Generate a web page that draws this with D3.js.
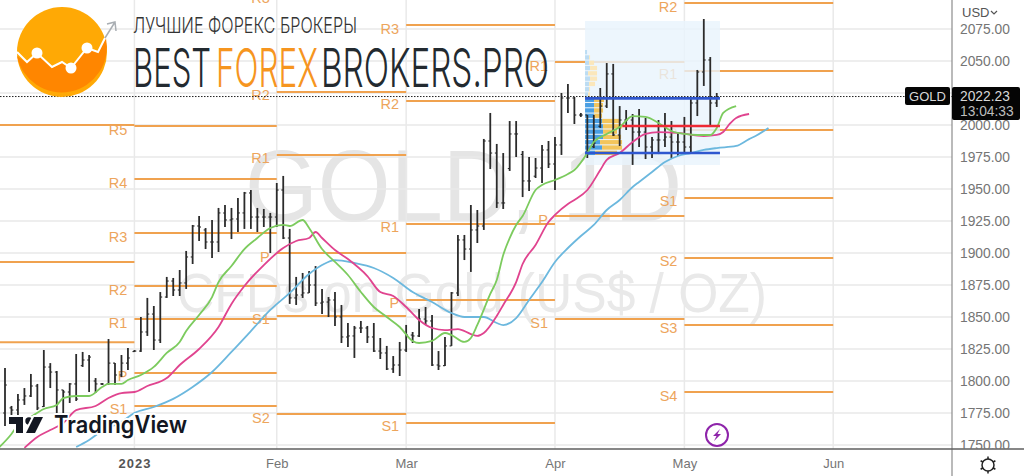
<!DOCTYPE html>
<html>
<head>
<meta charset="utf-8">
<script src="https://cdn.jsdelivr.net/npm/d3@7"></script>
<style>
  html, body { margin: 0; padding: 0; background: #fff; overflow: hidden; }
  text { font-family: "Liberation Sans", Arial, sans-serif; }
</style>
</head>
<body>
<div id="chart"></div>
<script>
// Daily gold bars, index 0 is the first bar on the left edge
var barOpen = [1775,1779,1777.3,1785.2,1788.3,1796.1,1780,1810.9,1807,1793,1791.4,1797.7,1812,1816.4,1800,1797.7,1797.7,1814,1804.7,1814,1823,
  1823.4,1838.3,1852.3,1832,1865.6,1878.1,1871.1,1876.6,1896.9,1921.1,1918,1908.6,1908.6,1931.3,1925.8,1926.6,1931.3,1946.9,1928.1,1928.1,1928.1,
  1928.1,1949.2,1911.7,1864.9,1867.2,1868.8,1875,1860.9,1861.7,1863.3,1850,1834.4,1835.2,1841.4,1841.4,1834.4,1823.4,1821.9,1809.4,1812.5,
  1824.2,1835.9,1835.2,1848.4,1846.9,1812.5,1812,1827.4,1868.8,1910.2,1903.1,1918,1921.1,1987.5,1978.1,1939.1,1966,1993,1977,1956.3,1960,1966.4,1980.5,
  1969.5,1984.4,2021.1,2021.1,2007.8,2007.8,1983,1999,2014.8,2039.9,1992.2,2003.9,2003.9,1994.5,1994.5,1982.8,1988.3,1988.3,1990.6,1986.7,
  1986.7,1982.8,2017.2,2041.4,2050.8,2017.2];
var barHigh = [1810.2,1780.5,1789.8,1794.5,1805.5,1797.7,1824.2,1814,1807.8,1793,1798.4,1821.1,1822.7,1820.3,1802.3,1798.4,1832.8,1814,1820.3,1825.8,1824.2,
  1850,1864.9,1858.6,1869.5,1881.3,1880.5,1886.7,1901.6,1921.9,1928.9,1919.5,1925.8,1935.2,1937.5,1935.2,1943,1947.7,1949.2,1935.2,1934.4,1931.3,
  1954.7,1960.2,1918.8,1881.3,1884.4,1885.9,1889.8,1871.9,1865.6,1869.5,1859.4,1845.3,1843,1846.9,1843,1845.3,1833.6,1827.4,1819.5,1830.5,
  1843.8,1838.3,1856.3,1857.8,1851.6,1823.4,1834.4,1869.5,1914.1,1914.1,1937.5,1933.6,1989.1,2009.4,1985.2,1978.1,2003.1,2003.1,1979.7,1975,1974.2,1984.4,1987.5,
  1990.6,2025,2032,2021.9,2009.4,2007.8,2007.8,2028.9,2048.4,2047.7,2014.8,2011.7,2008.6,2012.5,2005.5,1990.6,2003.9,2009.4,2003.1,1994.5,
  2006.3,2021.1,2043,2082.8,2053.1,2025];
var barLow = [1764.9,1769.5,1772.7,1781.3,1787.5,1777.3,1779.7,1794.5,1775,1775,1782.8,1784.4,1811,1791.4,1790.6,1796.9,1796.9,1796.9,1803.1,1808.6,1822.7,
  1822.7,1835.2,1824.2,1829.7,1864.9,1866.4,1866.4,1871.9,1891.4,1909.4,1903.1,1896.1,1900.8,1920.3,1910.9,1916.4,1918.8,1918.8,1916.4,1920.3,1900,
  1920.3,1910.9,1860.2,1859.4,1864.9,1868.8,1858.6,1852.3,1850,1843,1829.7,1826.6,1818,1837.5,1829.7,1822.7,1817.2,1808.6,1806.3,1803.9,
  1822.7,1829.7,1834.4,1843.8,1811.7,1808.6,1811.7,1827.4,1866.4,1894.5,1885.2,1907.8,1918,1965.6,1935.2,1934.4,1964.1,1975,1943.7,1948.4,1958.6,1954.7,1966.4,
  1949.2,1976.6,2009.4,2000.8,2006.3,1974.2,1982,1997.7,2013.3,1991.4,1983.6,1996.1,1968.8,1982.8,1973.4,1974.2,1977.3,1982.8,1974.2,1975.8,
  1978.1,1978.1,2007,2030.5,2000,2014.1];
var barClose = [1796.9,1777.3,1785.2,1788.3,1796.1,1778.9,1810.9,1807,1793,1791.4,1797.7,1785.9,1816.4,1818.7,1797.7,1797.7,1814,1804.7,1814,1818,1823.4,
  1838.3,1852.3,1832,1865.6,1878.1,1871.1,1876.6,1896.9,1921.1,1920.3,1908.6,1908.6,1931.3,1925.8,1926.6,1931.3,1946.9,1928.1,1928.1,1928.1,1928.1,
  1949.2,1911.7,1864.9,1867.2,1868.8,1875,1860.9,1861.7,1863.3,1850,1834.4,1835.2,1841.4,1841.4,1834.4,1823.4,1821.9,1809.4,1812.5,1824.2,
  1835.9,1835.2,1848.4,1846.9,1812.5,1811.7,1827.4,1868.8,1910.2,1903.1,1918,1921.1,1987.5,1978.1,1939.1,1939.1,1993,1993,1956.3,1956.3,1966.4,1980.5,1969.5,
  1984.4,2021.1,2021.1,2007.8,2007.8,1978.1,1985.9,2014.8,2039.9,1992.2,2003.9,2003.9,1994.5,1994.5,1982.8,1988.3,1988.3,1990.6,1986.7,1986.7,
  1982.8,2017.2,2041.4,2050.8,2017.2,2022.2];

// Moving averages as [bar index, price], they run past the last bar
var greenMa = [[-1,1747.7],[1,1758.6],[2,1765.6],[4,1771.9],[6,1778.1],[8,1781.3],[9,1786.7],[11,1788.3],[13,1788.3],[15,1795.3],[16,1797.7],[18,1797.7],[19,1800.8],
  [21,1804.7],[23,1811],[25,1821.9],[27,1830.5],[28,1839],[30,1851.6],[32,1865.6],[33,1877.3],[35,1889.8],[37,1903.1],[39,1911.7],[41,1919.5],[43,1921.9],[44,1921.1],
  [46,1925.8],[47,1919.5],[49,1903.1],[50,1897.7],[51,1893],[53,1882.8],[55,1869.5],[57,1857.8],[59,1850],[61,1842.2],[63,1831.3],[64,1829.7],[66,1831.3],[68,1837.5],
  [69,1835.9],[71,1830.5],[72,1833.6],[73,1843.8],[75,1868],[76,1878.9],[77,1898.4],[78,1911.7],[79,1921.9],[80,1928.9],[82,1949.2],[83,1953.1],[85,1957],[87,1961.7],
  [88,1964.8],[90,1978.1],[91,1986.7],[93,1993],[95,1998.4],[97,2007],[99,2006.3],[101,2001.6],[103,1995.3],[105,1993],[107,1992.2],[109,1992.2],[110,1997.7],[111,2009.4],[113,2014.8]];
var pinkMa = [[3,1747.7],[5,1756.3],[7,1761.7],[9,1767.2],[11,1777.3],[14,1780.5],[16,1786.7],[18,1790.6],[20,1791.4],[22,1796.1],[25,1802.3],[27,1812.5],[30,1825],
  [33,1842.2],[35,1860.2],[37,1874.2],[40,1890.6],[43,1903.9],[45,1909.4],[47,1911.7],[48,1916.4],[49,1911.7],[51,1902.3],[53,1895.3],[56,1882],[58,1869.5],[60,1866.4],
  [62,1857.8],[64,1847.7],[66,1841.4],[68,1839.8],[70,1840.6],[72,1836.7],[73,1835.2],[74,1837.5],[76,1850.8],[77,1859.4],[79,1877.3],[80,1891.4],[82,1906.3],[84,1924.2],
  [85,1929.7],[87,1938.3],[88,1941.4],[90,1949.2],[92,1964.8],[93,1972.7],[95,1978.1],[97,1986.7],[99,1993],[101,1994.5],[104,1993.8],[108,1991.4],[110,1992.2],[111,1994.5],
  [112,2000.8],[113,2005.5],[115,2008.6]];
var blueMa = [[11,1748.4],[13,1753.9],[15,1761],[18,1768],[20,1775],[23,1779.7],[26,1786],[29,1795.3],[32,1807],[35,1822.7],[38,1839],[41,1855.5],[44,1868.8],[47,1883.6],
  [49,1890.6],[51,1894.5],[54,1892.2],[57,1888.3],[60,1880.5],[63,1869.5],[66,1861.7],[69,1853.1],[71,1850],[74,1850],[76,1845.3],[77,1843.7],[79,1849.2],[81,1863.3],
  [83,1877.3],[85,1893],[87,1903.9],[89,1913.3],[91,1921.9],[93,1933.6],[95,1941.4],[97,1951.6],[98,1955.5],[100,1963.3],[102,1971.1],[104,1975.8],[106,1978.1],[108,1980.5],
  [110,1982],[113,1983.6],[115,1989],[116,1991.4],[118,1997.7]];

// Monthly pivots: first and last bar of each period, then its levels
var pivotStart = [-3, 20, 42, 62, 85, 105];
var pivotEnd = [20, 42, 62, 85, 105, 128];
var pivotNames = [
  ['', '', ''],
  ['R5', 'R4', 'R3', 'R2', 'R1', 'P', 'S1'],
  ['R3', 'R2', 'R1', 'P', 'S1', 'S2'],
  ['R3', 'R2', 'R1', 'P', 'S1'],
  ['R1', 'P', 'S1'],
  ['R2', 'R1', 'P', 'S1', 'S2', 'S3', 'S4']
];
var pivotPrices = [
  [2000, 1893, 1830.2],
  [1999.2, 1957.8, 1915.6, 1874.2, 1848.4, 1806.3, 1780.5],
  [2101.6, 2025.8, 1976.6, 1900, 1850.8, 1774.2],
  [2078.1, 2018.8, 1922.7, 1863.3, 1767.2],
  [2049.2, 1928.9, 1848.4],
  [2095.3, 2042.2, 1996.1, 1943, 1896.1, 1843.8, 1791.4]
];

// Volume profile, one row per price bin from the top down
var profileTop = 2058.6;
var profileStep = 4.14;
var profileUp = [2,4,4,5,3,5,4,4,3,9,9,9,9,17,18,18,18,15,17,10];
var profileDown = [0,1,5,7,9,7,6,1,2,10,9,9,8,17,19,14,18,22,20,22];
var valueAreaFirstRow = 9;
var valueAreaHigh = 2020.8;
var valueAreaLow = 1978.1;
var pointOfControl = 1999.2;
var profileFirstBar = 89.65;
var profileLastBar = 110.5;
var pocFirstBar = 95.4;

var priceTicks = [2075,2050,2025,2000,1975,1950,1925,1900,1875,1850,1825,1800,1775,1750];
var monthBars = [20, 42, 62, 85, 105, 128];
var monthLabels = ['2023', 'Feb', 'Mar', 'Apr', 'May', 'Jun'];
var lastPrice = 2022.23;

var width = 1024;
var height = 476;
var plotRight = 952;
var plotBottom = 449;

var svg = d3.select('#chart')
  .append('svg')
  .attr('width', width)
  .attr('height', height)
  .style('display', 'block');

var x = d3.scaleLinear().domain([0, 128]).range([5, 833.2]);
var y = d3.scaleLinear().domain([1750, 2075]).range([445, 29]);
var volume = d3.scaleLinear().domain([0, 42]).range([0, 42]);

var defs = svg.append('defs');
defs.append('clipPath').attr('id', 'plot')
  .append('rect').attr('width', plotRight).attr('height', plotBottom);
defs.append('clipPath').attr('id', 'scale')
  .append('rect').attr('x', plotRight).attr('width', width - plotRight).attr('height', plotBottom);

var plot = svg.append('g').attr('clip-path', 'url(#plot)');

// Watermark
plot.append('text')
  .attr('x', 245).attr('y', 221)
  .attr('textLength', 437).attr('lengthAdjust', 'spacingAndGlyphs')
  .style('font-size', '102px').style('fill', '#e5e5e5')
  .text('GOLD, 1D');
plot.append('text')
  .attr('x', 177).attr('y', 312)
  .attr('textLength', 590).attr('lengthAdjust', 'spacingAndGlyphs')
  .style('font-size', '55px').style('fill', '#e9e9e9')
  .text('CFDs on Gold (US$ / OZ)');

// Grid
plot.selectAll('.hgrid')
  .data(priceTicks)
  .enter().append('line')
  .attr('x1', 0).attr('x2', plotRight)
  .attr('y1', function(d) { return y(d); })
  .attr('y2', function(d) { return y(d); })
  .style('stroke', '#e9e9e9').style('stroke-width', 1.5);
plot.selectAll('.vgrid')
  .data(monthBars)
  .enter().append('line')
  .attr('x1', function(d) { return x(d); })
  .attr('x2', function(d) { return x(d); })
  .attr('y1', 0).attr('y2', plotBottom)
  .style('stroke', '#e9e9e9').style('stroke-width', 1.5);

// Pivot levels with their names to the left of each line
var pivots = [];
pivotPrices.forEach(function(levels, p) {
  levels.forEach(function(price, i) {
    pivots.push({ start: pivotStart[p], end: pivotEnd[p], name: pivotNames[p][i], price: price });
  });
});
plot.selectAll('.pivot')
  .data(pivots)
  .enter().append('line')
  .attr('x1', function(d) { return x(d.start); })
  .attr('x2', function(d) { return x(d.end); })
  .attr('y1', function(d) { return y(d.price); })
  .attr('y2', function(d) { return y(d.price); })
  .style('stroke', '#f0a24f').style('stroke-width', 2);
plot.selectAll('.pivot-name')
  .data(pivots.filter(function(d) { return d.name; }))
  .enter().append('text')
  .attr('x', function(d) { return x(d.start) - 7; })
  .attr('y', function(d) { return y(d.price) + 8.5; })
  .style('text-anchor', 'end')
  .style('font-size', '14.5px')
  .style('fill', '#eda55c')
  .text(function(d) { return d.name; });

// Volume profile
var boxLeft = x(profileFirstBar);
plot.append('rect')
  .attr('x', boxLeft).attr('y', 21)
  .attr('width', x(profileLastBar) - boxLeft).attr('height', 144)
  .style('fill', '#e8f4fd').style('opacity', 0.8);
var rowHeight = Math.abs(y(0) - y(profileStep));
var rows = plot.selectAll('.row')
  .data(profileUp)
  .enter().append('g')
  .attr('transform', function(d, i) {
    return 'translate(' + boxLeft + ',' + y(profileTop - i * profileStep) + ')';
  });
rows.append('rect')
  .attr('width', function(d) { return volume(d); })
  .attr('height', rowHeight - 1)
  .style('fill', function(d, i) { return i >= valueAreaFirstRow ? '#4a9fe3' : '#bcdcf3'; });
rows.append('rect')
  .attr('x', function(d) { return volume(d); })
  .attr('width', function(d, i) { return volume(profileDown[i]); })
  .attr('height', rowHeight - 1)
  .style('fill', function(d, i) { return i >= valueAreaFirstRow ? '#f3c55c' : '#fbe7bb'; });

// OHLC bars
var bars = plot.selectAll('.bar')
  .data(barHigh)
  .enter().append('g')
  .style('stroke', '#2b2b2b');
bars.append('line')
  .attr('x1', function(d, i) { return x(i); })
  .attr('x2', function(d, i) { return x(i); })
  .attr('y1', function(d) { return y(d); })
  .attr('y2', function(d, i) { return y(barLow[i]); })
  .style('stroke-width', 1.8);
bars.append('line')
  .attr('x1', function(d, i) { return x(i) - 1.9; })
  .attr('x2', function(d, i) { return x(i); })
  .attr('y1', function(d, i) { return y(barOpen[i]); })
  .attr('y2', function(d, i) { return y(barOpen[i]); })
  .style('stroke-width', 1.1);
bars.append('line')
  .attr('x1', function(d, i) { return x(i); })
  .attr('x2', function(d, i) { return x(i) + 1.9; })
  .attr('y1', function(d, i) { return y(barClose[i]); })
  .attr('y2', function(d, i) { return y(barClose[i]); })
  .style('stroke-width', 1.1);

// Moving averages
var maLine = d3.line()
  .x(function(d) { return x(d[0]); })
  .y(function(d) { return y(d[1]); })
  .curve(d3.curveMonotoneX);
plot.append('path').datum(blueMa).attr('d', maLine)
  .style('fill', 'none').style('stroke', '#6cb8de').style('stroke-width', 1.8);
plot.append('path').datum(pinkMa).attr('d', maLine)
  .style('fill', 'none').style('stroke', '#e0448f').style('stroke-width', 1.8);
plot.append('path').datum(greenMa).attr('d', maLine)
  .style('fill', 'none').style('stroke', '#7ccb5e').style('stroke-width', 1.8);

// Value area and point of control
[valueAreaHigh, valueAreaLow].forEach(function(price) {
  plot.append('line')
    .attr('x1', boxLeft).attr('x2', x(profileLastBar))
    .attr('y1', y(price)).attr('y2', y(price))
    .style('stroke', '#2f57cf').style('stroke-width', 2.6);
});
plot.append('line')
  .attr('x1', x(pocFirstBar)).attr('x2', x(profileLastBar))
  .attr('y1', y(pointOfControl)).attr('y2', y(pointOfControl))
  .style('stroke', '#ee2a35').style('stroke-width', 2.6);

// Current price line
plot.append('line')
  .attr('x1', 0).attr('x2', plotRight)
  .attr('y1', y(lastPrice)).attr('y2', y(lastPrice))
  .style('stroke', '#222').style('stroke-width', 1)
  .style('stroke-dasharray', '1.5,1.5');

// Earnings style lightning marker
var marker = plot.append('g').attr('transform', 'translate(717,435)');
marker.append('circle').attr('r', 11)
  .style('fill', '#fff').style('stroke', '#8e24aa').style('stroke-width', 2);
marker.append('path')
  .attr('d', 'M3,-6 L-4,1 L-0.5,1 L-3,6 L4,-1 L0.5,-1 Z')
  .style('fill', '#8e24aa');

// Price scale and time scale
svg.append('line')
  .attr('x1', plotRight).attr('x2', plotRight).attr('y1', 0).attr('y2', height)
  .style('stroke', '#8c8c8c').style('stroke-width', 1.2);
svg.append('line')
  .attr('x1', 0).attr('x2', width).attr('y1', plotBottom).attr('y2', plotBottom)
  .style('stroke', '#5f5f5f').style('stroke-width', 1.4);

var priceAxis = svg.append('g')
  .attr('clip-path', 'url(#scale)')
  .append('g')
  .attr('transform', 'translate(' + 960 + ',0)')
  .call(d3.axisRight(y).tickValues(priceTicks).tickSize(0).tickPadding(0).tickFormat(d3.format('.2f')));
priceAxis.select('.domain').remove();
priceAxis.selectAll('text')
  .style('font-family', '"Liberation Sans", Arial, sans-serif')
  .style('font-size', '13.8px').style('fill', '#757575');

var timeAxis = svg.append('g')
  .attr('transform', 'translate(0,' + 459 + ')')
  .call(d3.axisBottom(x).tickValues(monthBars).tickSize(0).tickPadding(0)
    .tickFormat(function(d, i) { return monthLabels[i]; }));
timeAxis.select('.domain').remove();
timeAxis.selectAll('text')
  .style('font-family', '"Liberation Sans", Arial, sans-serif')
  .style('font-size', '13px')
  .style('fill', function(d, i) { return i === 0 ? '#555' : '#757575'; })
  .style('font-weight', function(d, i) { return i === 0 ? 'bold' : 'normal'; })
  .style('letter-spacing', function(d, i) { return i === 0 ? '1px' : '0'; });

svg.append('text').attr('x', 962).attr('y', 17)
  .style('font-size', '13px').style('fill', '#555').text('USD');
svg.append('path').attr('d', 'M991,11 L994,14 L997,11')
  .style('fill', 'none').style('stroke', '#555').style('stroke-width', 1.2);

// Labels on the current price
svg.append('rect').attr('x', 905).attr('y', 87).attr('width', 45).attr('height', 18).attr('rx', 2)
  .style('fill', '#050505');
svg.append('text').attr('x', 927.5).attr('y', 101).style('text-anchor', 'middle')
  .style('font-size', '13px').style('fill', '#d8d8d8').text('GOLD');
svg.append('rect').attr('x', 952).attr('y', 87).attr('width', 68).attr('height', 33).attr('rx', 2)
  .style('fill', '#050505');
svg.append('text').attr('x', 960).attr('y', 101)
  .style('font-size', '13.8px').style('fill', '#d8d8d8').text('2022.23');
svg.append('text').attr('x', 960).attr('y', 116)
  .style('font-size', '13.8px').style('fill', '#bdbdbd').text('13:04:33');

// Settings gear
var gear = svg.append('g').attr('transform', 'translate(988,465)')
  .style('stroke', '#222').style('fill', 'none');
gear.append('circle').attr('r', 6).style('stroke-width', 1.5);
d3.range(6).forEach(function(k) {
  var a = k * Math.PI / 3;
  gear.append('line')
    .attr('x1', 6 * Math.sin(a)).attr('y1', -6 * Math.cos(a))
    .attr('x2', 8.5 * Math.sin(a)).attr('y2', -8.5 * Math.cos(a))
    .style('stroke-width', 1.5);
});

// TradingView logo, with a white edge that hides the chart right behind it
var tv = svg.append('g')
  .style('fill', '#131722')
  .style('stroke', '#fff').style('stroke-width', 4)
  .style('paint-order', 'stroke').style('stroke-linejoin', 'round');
tv.append('path').attr('d', 'M9,417 H23 V433 H16 V424 H9 Z');
tv.append('circle').attr('cx', 29).attr('cy', 421).attr('r', 3.7);
tv.append('path').attr('d', 'M43,417 L35,433 H26 L34,417 Z');
tv.append('text')
  .attr('x', 54).attr('y', 433)
  .attr('textLength', 133).attr('lengthAdjust', 'spacingAndGlyphs')
  .style('font-family', 'Inter, Lato, sans-serif')
  .style('font-size', '24px').style('font-weight', 600)
  .text('TradingView');

// Site logo on top of the chart
var logo = svg.append('g');
logo.append('circle').attr('cx', 62).attr('cy', 52).attr('r', 45).style('fill', '#ffa905');
logo.append('path')
  .attr('d', 'M17,56 L27,63 L37,54 L52,68 L62,63 L71,69 L87,49 L98,53 L106,38 A45,45 0 0 1 17,56 Z')
  .style('fill', '#ff8600');
logo.append('path')
  .attr('d', 'M17,52 L27,62 L37,53 L52,67 L62,62 L71,68 L87,48 L98,52 L105,38')
  .style('fill', 'none').style('stroke', '#fff').style('stroke-width', 2);
logo.append('path')
  .attr('d', 'M105,38 L115,22 M107,24 L115,22 L116,31')
  .style('fill', 'none').style('stroke', '#a9aeb3').style('stroke-width', 1.5);
[[37, 53], [71, 68], [87, 48]].forEach(function(c) {
  logo.append('circle').attr('cx', c[0]).attr('cy', c[1]).attr('r', 5.5).style('fill', '#fff');
});
logo.append('text')
  .attr('x', 133).attr('y', 33)
  .attr('textLength', 224).attr('lengthAdjust', 'spacingAndGlyphs')
  .style('font-family', 'Inter, Roboto, sans-serif').style('font-size', '22px')
  .style('font-weight', 300).style('fill', '#333')
  .text('ЛУЧШИЕ ФОРЕКС БРОКЕРЫ');
[
  { t: 'BEST', x: 133, w: 78, c: '#232a30' },
  { t: 'FOREX', x: 216, w: 102, c: '#f6951f' },
  { t: 'BROKERS.PRO', x: 321, w: 228, c: '#232a30' }
].forEach(function(p) {
  logo.append('text')
    .attr('x', p.x).attr('y', 87)
    .attr('textLength', p.w).attr('lengthAdjust', 'spacingAndGlyphs')
    .style('font-family', 'Inter, Roboto, sans-serif').style('font-size', '54px')
    .style('font-weight', 300).style('fill', p.c)
    .text(p.t);
});
</script>
</body>
</html>
